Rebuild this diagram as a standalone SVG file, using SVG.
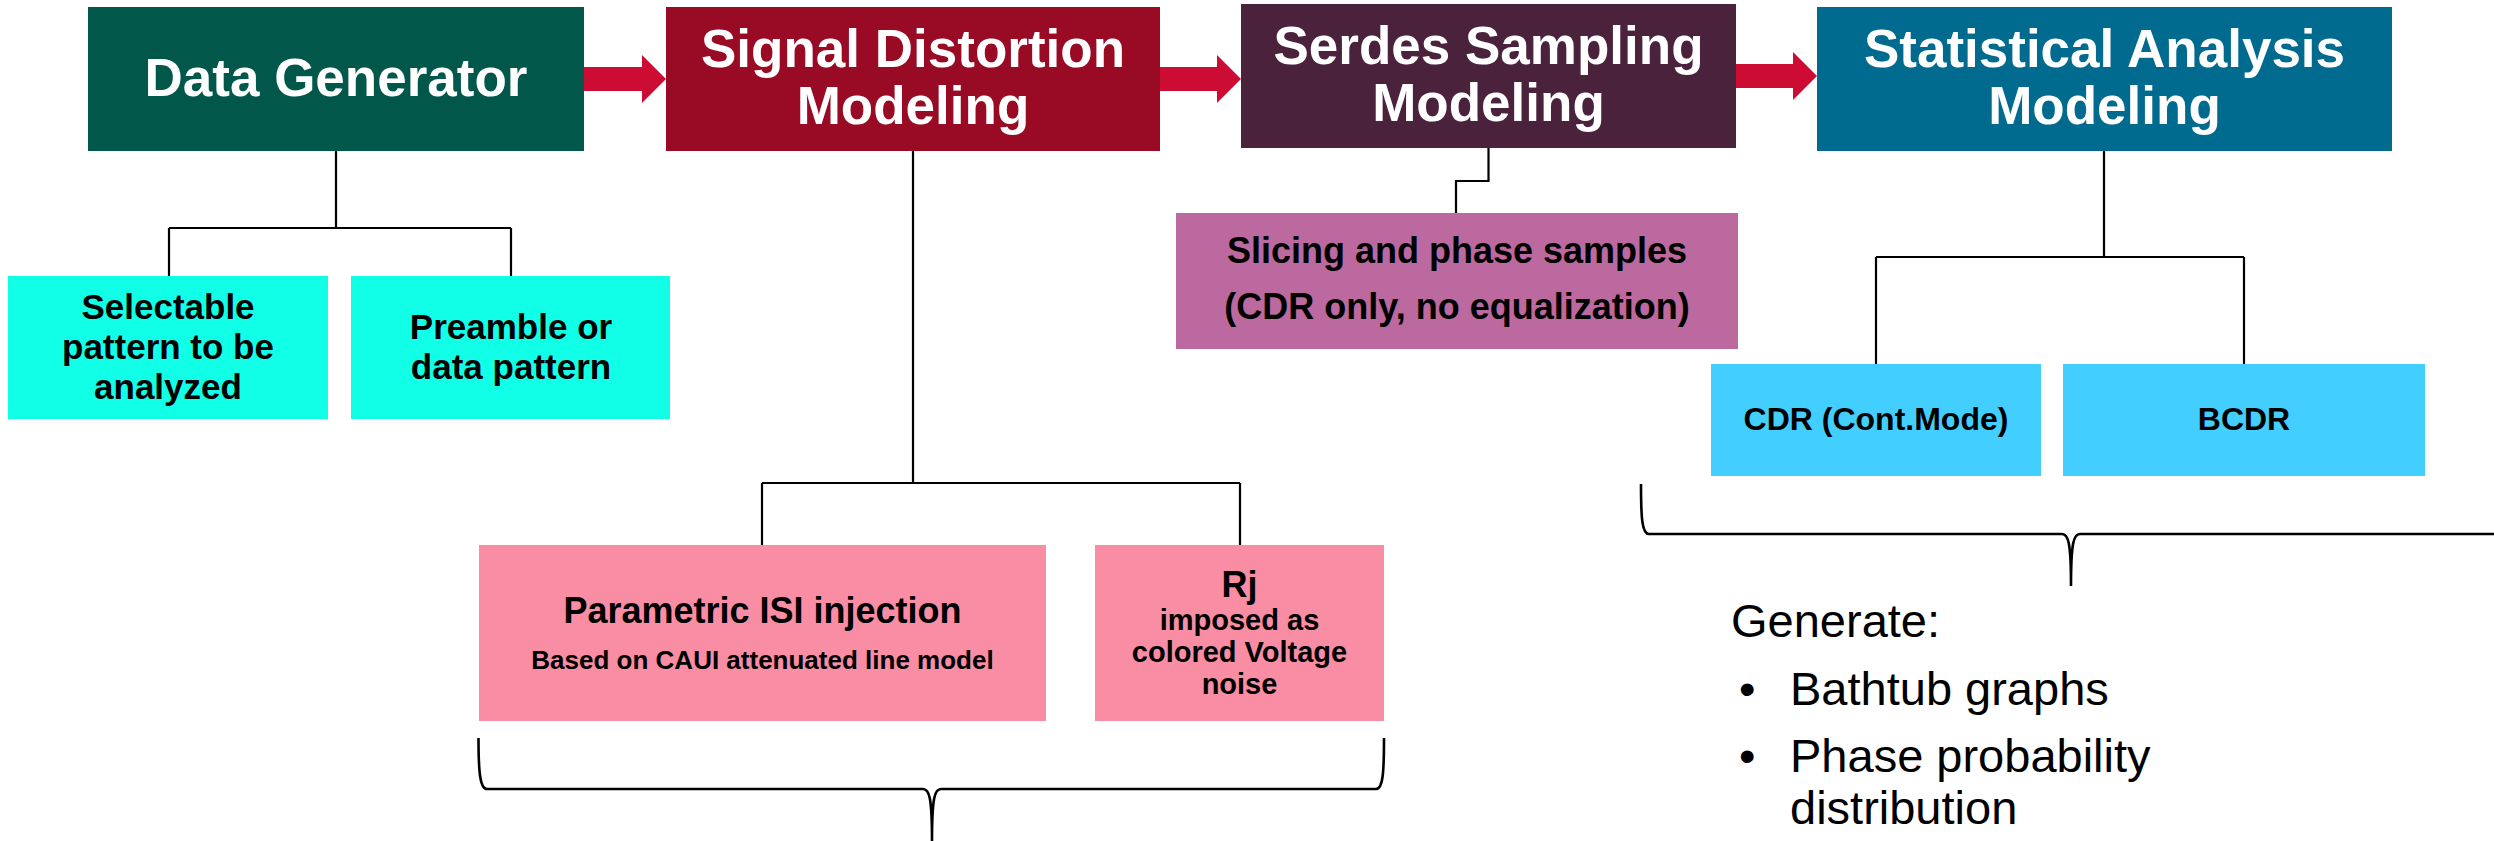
<svg xmlns="http://www.w3.org/2000/svg" width="2494" height="841" viewBox="0 0 2494 841">
  <style>
    .hdr { font-family: "Liberation Sans", Arial, sans-serif; font-weight: bold; font-size: 53px; fill: #ffffff; text-anchor: middle; }
    .lbl { font-family: "Liberation Sans", Arial, sans-serif; font-weight: bold; fill: #000000; text-anchor: middle; }
    .body { font-family: "Liberation Sans", Arial, sans-serif; font-size: 47px; fill: #000000; }
    .wire { fill: none; stroke: #000000; stroke-width: 2.2; }
    .brace { fill: none; stroke: #000000; stroke-width: 2.6; }
    .flow { fill: #CC0C33; }
  </style>
  <rect width="2494" height="841" fill="#ffffff"/>

  <!-- tree connectors, flow arrows and braces -->
  <g id="connectors">
    <path class="wire" d="M336,151 V228 M169,228 H511 M169,228 V276 M511,228 V276"/>
    <path class="wire" d="M913,151 V483 M762,483 H1240 M762,483 V545 M1240,483 V545"/>
    <path class="wire" d="M1488.5,148 V181 H1456 V213"/>
    <path class="wire" d="M2104,151 V257 M1876,257 H2244 M1876,257 V364 M2244,257 V364"/>
    <polygon class="flow" points="584,67 642,67 642,55 666,79 642,103 642,91 584,91"/>
    <polygon class="flow" points="1160,67 1217,67 1217,55 1241,79 1217,103 1217,91 1160,91"/>
    <polygon class="flow" points="1736,64 1793,64 1793,52 1817,76 1793,100 1793,88 1736,88"/>
    <path class="brace" d="M478.5,738 C478.5,772 480,789 487,789 L923,789 C929,789 932,796 932,841 C932,796 935,789 941,789 L1376,789 C1383,789 1384,772 1384,738"/>
    <path class="brace" d="M1641,484 C1641,518 1642,534 1649,534 L2062,534 C2068,534 2071,541 2071,586 C2071,541 2074,534 2080,534 L2500,534"/>
  </g>

  <g id="data-generator">
    <rect x="88" y="7" width="496" height="144" fill="#02574B"/>
    <text class="hdr" x="336" y="96">Data Generator</text>
  </g>
  <g id="signal-distortion">
    <rect x="666" y="7" width="494" height="144" fill="#990A24"/>
    <text class="hdr" x="913" y="67">Signal Distortion</text>
    <text class="hdr" x="913" y="124">Modeling</text>
  </g>
  <g id="serdes-sampling">
    <rect x="1241" y="4" width="495" height="144" fill="#4A223B"/>
    <text class="hdr" x="1488.5" y="63.5">Serdes Sampling</text>
    <text class="hdr" x="1488.5" y="121">Modeling</text>
  </g>
  <g id="statistical-analysis">
    <rect x="1817" y="7" width="575" height="144" fill="#006B8E"/>
    <text class="hdr" x="2104.5" y="67">Statistical Analysis</text>
    <text class="hdr" x="2104.5" y="124">Modeling</text>
  </g>

  <g id="selectable-pattern">
    <rect x="8" y="276" width="320" height="143" fill="#10FFE6"/>
    <text class="lbl" font-size="35" x="168" y="319">Selectable</text>
    <text class="lbl" font-size="35" x="168" y="359">pattern to be</text>
    <text class="lbl" font-size="35" x="168" y="399">analyzed</text>
  </g>
  <g id="preamble-pattern">
    <rect x="351" y="276" width="319" height="143" fill="#10FFE6"/>
    <text class="lbl" font-size="35" x="511" y="339">Preamble or</text>
    <text class="lbl" font-size="35" x="511" y="379">data pattern</text>
  </g>

  <g id="slicing-samples">
    <rect x="1176" y="213" width="562" height="136" fill="#BC69A0"/>
    <text class="lbl" font-size="36" x="1457" y="263">Slicing and phase samples</text>
    <text class="lbl" font-size="36" x="1457" y="319">(CDR only, no equalization)</text>
  </g>

  <g id="isi-injection">
    <rect x="479" y="545" width="567" height="176" fill="#F98DA3"/>
    <text class="lbl" font-size="36" x="762.5" y="623">Parametric ISI injection</text>
    <text class="lbl" font-size="26" x="762.5" y="669">Based on CAUI attenuated line model</text>
  </g>
  <g id="rj-noise">
    <rect x="1095" y="545" width="289" height="176" fill="#F98DA3"/>
    <text class="lbl" font-size="36" x="1239.5" y="597">Rj</text>
    <text class="lbl" font-size="29" x="1239.5" y="630">imposed as</text>
    <text class="lbl" font-size="29" x="1239.5" y="662">colored Voltage</text>
    <text class="lbl" font-size="29" x="1239.5" y="694">noise</text>
  </g>

  <g id="cdr-cont-mode">
    <rect x="1711" y="364" width="330" height="112" fill="#42CFFF"/>
    <text class="lbl" font-size="32" x="1876" y="430">CDR (Cont.Mode)</text>
  </g>
  <g id="bcdr">
    <rect x="2063" y="364" width="362" height="112" fill="#42CFFF"/>
    <text class="lbl" font-size="32" x="2244" y="430">BCDR</text>
  </g>

  <g id="outputs">
    <text class="body" x="1731" y="637">Generate:</text>
    <text class="body" x="1739" y="705">•</text>
    <text class="body" x="1790" y="705">Bathtub graphs</text>
    <text class="body" x="1739" y="772">•</text>
    <text class="body" x="1790" y="772">Phase probability</text>
    <text class="body" x="1790" y="824">distribution</text>
  </g>
</svg>
